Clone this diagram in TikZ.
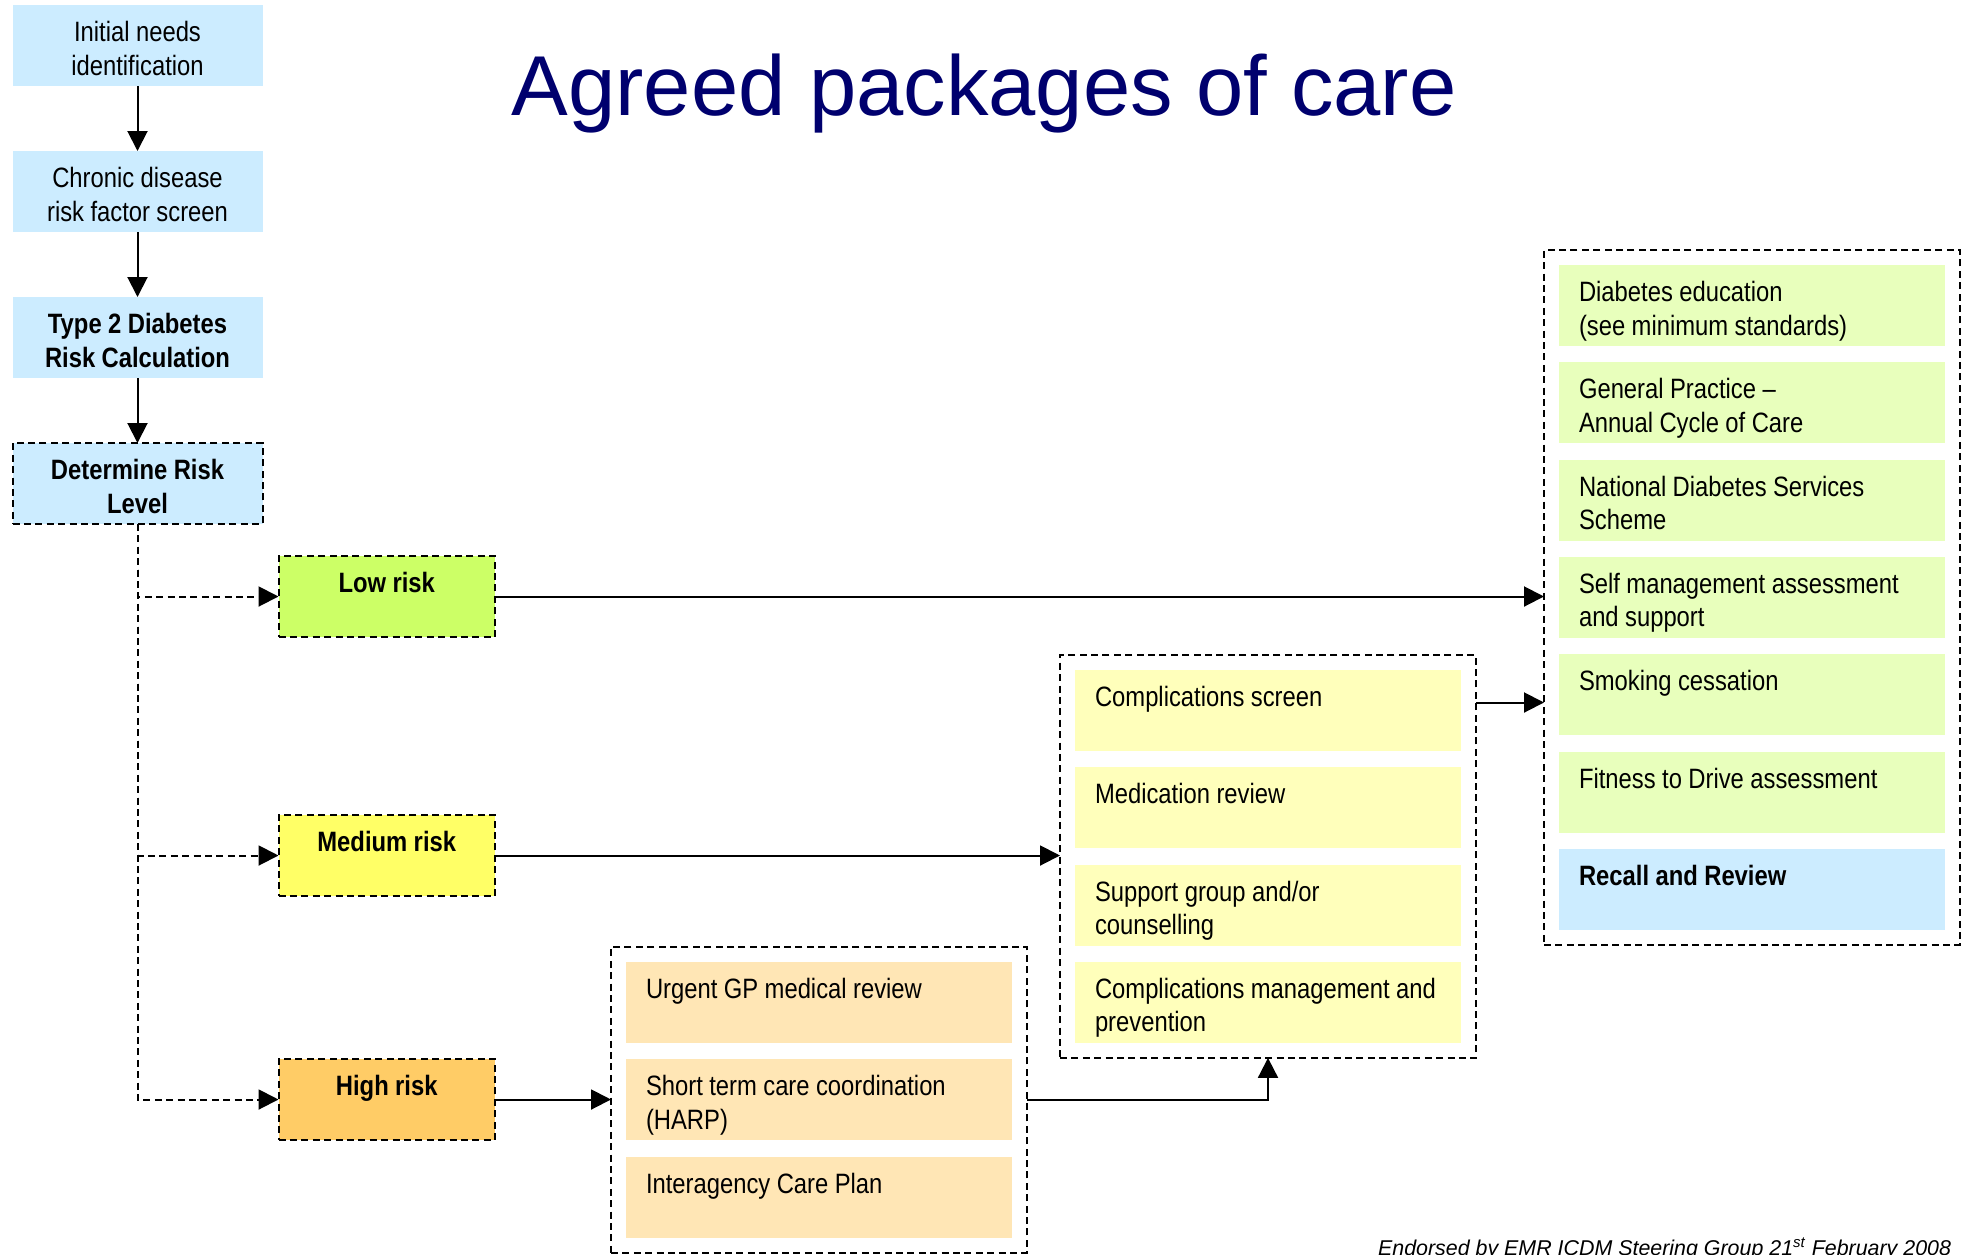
\documentclass[tikz,border=0pt]{standalone}
\usepackage{fontspec}
\setmainfont{Liberation Sans}[FakeStretch=0.85]
\newfontfamily\widefont{Liberation Sans}
\usepackage{xcolor}
\definecolor{myblue}{RGB}{204,236,255}
\definecolor{mylow}{RGB}{204,255,102}
\definecolor{mymed}{RGB}{255,255,102}
\definecolor{myhigh}{RGB}{255,204,102}
\definecolor{mygreen}{RGB}{232,255,188}
\definecolor{mylemon}{RGB}{255,255,187}
\definecolor{mypeach}{RGB}{255,230,181}
\definecolor{mynavy}{RGB}{0,0,110}
\usepackage{tikz}
\usetikzlibrary{positioning,fit,arrows.meta}

\begin{document}
\begin{tikzpicture}[x=0.5pt,y=-0.5pt,line width=1pt,>={Triangle[length=10pt,width=10pt]},node distance=8.15pt]
	\tikzstyle{box}=[rectangle,inner sep=0pt,outer sep=0pt,text height=18.25pt,text depth=22.25pt,font=\fontsize{14pt}{16.75pt}\selectfont,execute at begin node={\spaceskip=0.23em\relax}];
	\tikzstyle{strong}=[font=\fontsize{14pt}{16.75pt}\selectfont\bfseries];
	\tikzstyle{dashline}=[dash pattern=on 3.5pt off 2.2pt];
	\tikzstyle{stage}=[box,fill=myblue,minimum width=125pt,text width=125pt,align=center,anchor=north west];
	\tikzstyle{risk}=[box,strong,draw,dashline,minimum width=108.25pt,text width=108.25pt,align=center,anchor=north west];
	\tikzstyle{care}=[box,inner xsep=10pt,text width=173pt,align=left,anchor=north west];
	\tikzstyle{group}=[draw,dashline,inner sep=7.5pt,outer sep=0pt];
	\useasboundingbox (0,0) rectangle (1966,1254);
	\node[font=\widefont\fontsize{42.5pt}{50pt}\selectfont,text=mynavy,anchor=base,inner sep=0pt] (title) at (984,115) {Agreed packages of care};
	\node[stage] (need) at (12.5,5) {Initial needs\\identification};
	\node[stage,below=32.5pt of need] (screen) {Chronic disease\\risk factor screen};
	\node[stage,strong,below=32.5pt of screen] (calc) {Type 2 Diabetes\\Risk Calculation};
	\node[stage,strong,draw,dashline,below=32.5pt of calc] (level) {Determine Risk\\Level};
	\node[risk,fill=mylow] (low) at (278.5,556) {Low risk};
	\node[risk,fill=mymed] (med) at (278.5,815) {Medium risk};
	\node[risk,fill=myhigh] (high) at (278.5,1059) {High risk};
	\node[care,fill=mygreen] (edu) at (1559,265) {Diabetes education\\(see minimum standards)};
	\node[care,fill=mygreen,below=of edu] (gp) {General Practice –\\Annual Cycle of Care};
	\node[care,fill=mygreen,below=of gp] (ndss) {National Diabetes Services\\Scheme};
	\node[care,fill=mygreen,below=of ndss] (self) {Self management assessment\\and support};
	\node[care,fill=mygreen,below=of self] (smoke) {Smoking cessation};
	\node[care,fill=mygreen,below=of smoke] (drive) {Fitness to Drive assessment};
	\node[care,strong,fill=myblue,below=of drive] (recall) {Recall and Review};
	\node[group,fit=(edu)(recall)] (ongoing) {};
	\node[care,fill=mylemon] (cs) at (1075,670) {Complications screen};
	\node[care,fill=mylemon,below=of cs] (medrev) {Medication review};
	\node[care,fill=mylemon,below=of medrev] (support) {Support group and/or\\counselling};
	\node[care,fill=mylemon,below=of support] (manage) {\mbox{Complications management and}\\prevention};
	\node[group,fit=(cs)(manage)] (medcare) {};
	\node[care,fill=mypeach] (gpreview) at (626,962) {Urgent GP medical review};
	\node[care,fill=mypeach,below=of gpreview] (harp) {Short term care coordination\\(HARP)};
	\node[care,fill=mypeach,below=of harp] (icp) {Interagency Care Plan};
	\node[group,fit=(gpreview)(icp)] (urgentcare) {};
	\node[font=\widefont\itshape\fontsize{10.7pt}{13pt}\selectfont,anchor=base east,inner sep=0pt] (endorse) at (1952,1255) {Endorsed by EMR ICDM Steering Group 21\textsuperscript{st} February 2008};
	\draw[->] (need) -- (screen);
	\draw[->] (screen) -- (calc);
	\draw[->] (calc) -- (level);
	\draw[dashline,->] (level) |- (low);
	\draw[dashline,->] (level) |- (med);
	\draw[dashline,->] (level) |- (high);
	\draw[->] (low) -- (low -| ongoing.west);
	\draw[->] (med) -- (med -| medcare.west);
	\draw[->] (high) -- (high -| urgentcare.west);
	\draw[->] (urgentcare) -| (medcare);
	\draw[->] ([yshift=4pt]cs.east -| medcare.east) -- ([yshift=4pt]cs.east -| ongoing.west);
\end{tikzpicture}
\end{document}
